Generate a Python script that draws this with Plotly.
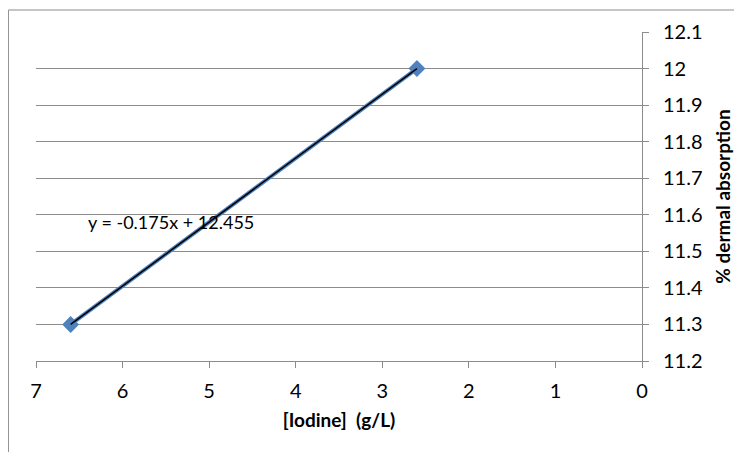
import plotly.graph_objects as go

iodine = [6.6, 2.6]
absorption = [11.3, 12.0]
slope = -0.175
intercept = 12.455
x_ticks = [7, 6, 5, 4, 3, 2, 1, 0]
y_ticks = [11.2, 11.3, 11.4, 11.5, 11.6, 11.7, 11.8, 11.9, 12.0, 12.1]
y_tick_text = ["11.2", "11.3", "11.4", "11.5", "11.6", "11.7", "11.8", "11.9", "12", "12.1"]

trend_y = [slope * x + intercept for x in iodine]

FONT = "Lato, Open Sans, sans-serif"

fig = go.Figure()
fig.add_trace(go.Scatter(
    x=iodine, y=absorption, mode="lines+markers",
    line=dict(color="#4F81BD", width=4),
    marker=dict(symbol="diamond", size=13, color="#4F81BD"),
    showlegend=False, hoverinfo="skip"))
fig.add_trace(go.Scatter(
    x=iodine, y=trend_y, mode="lines",
    line=dict(color="black", width=1.5),
    showlegend=False, hoverinfo="skip"))

fig.update_layout(
    width=742, height=452,
    margin=dict(l=28, r=108, t=24, b=99),
    paper_bgcolor="white", plot_bgcolor="white",
    font=dict(family=FONT, size=20, color="black"),
    xaxis=dict(range=[7, 0], tickvals=x_ticks, ticks="outside", ticklen=6,
               tickcolor="#8c8c8c", showline=True, linecolor="#8c8c8c",
               linewidth=1, showgrid=False, zeroline=False, automargin=False,
               ticklabelstandoff=6,
               title=dict(text="<b>[Iodine]  (g/L)</b>", font=dict(size=19), standoff=12)),
    yaxis=dict(range=[11.2, 12.1], side="right", tickvals=y_ticks, ticktext=y_tick_text,
               ticks="outside", ticklen=6, tickcolor="#8c8c8c",
               showline=True, linecolor="#8c8c8c", linewidth=1, automargin=False,
               ticklabelstandoff=10,
               showgrid=True, gridcolor="#8c8c8c", gridwidth=1, zeroline=False,
               title=dict(text="<b>% dermal absorption</b>", font=dict(size=19), standoff=14)),
)

fig.add_annotation(x=5.44, y=11.58, xref="x", yref="y", text="y = -0.175x + 12.455",
                   showarrow=False, font=dict(size=18, family=FONT))

fig.add_shape(type="rect", xref="paper", yref="paper",
              x0=-0.0455, x1=1.3, y0=-0.4, y1=1.0669,
              line=dict(color="#8c8c8c", width=1), layer="below")

fig.write_html("out.html")
